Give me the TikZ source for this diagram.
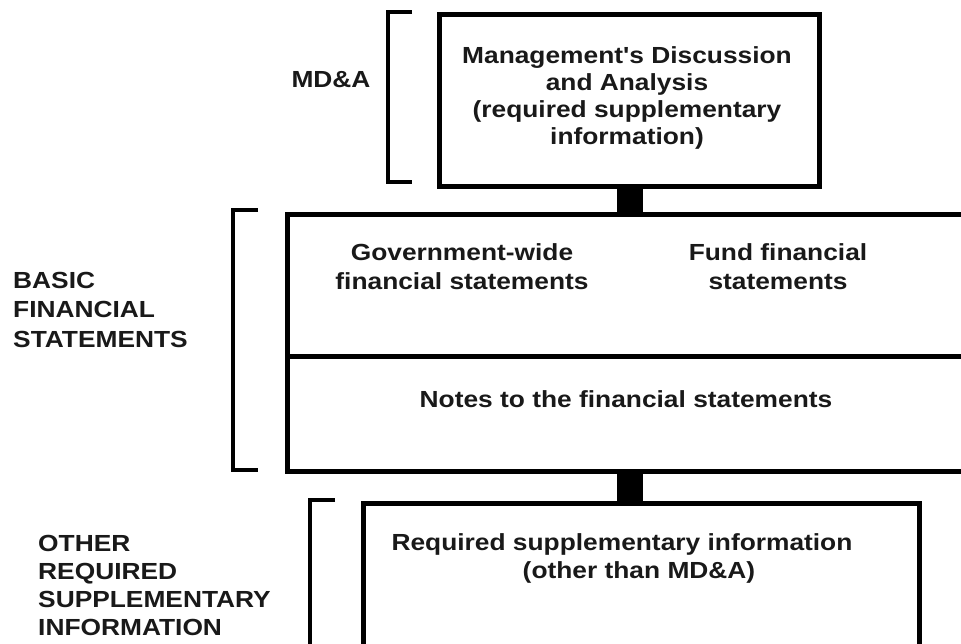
\documentclass[tikz,border=0pt]{standalone}
\usepackage{fontspec}
\setmainfont{Liberation Sans}[FakeStretch=1.13, Ligatures=TeXOff]
\begin{document}
\begin{tikzpicture}[x=1pt,y=-1pt,
  box/.style={draw, line width=5pt, inner sep=0pt, anchor=north west},
  lbl/.style={font=\bfseries\fontsize{23.3}{28.5}\selectfont, inner sep=0pt, anchor=base, text=black!90},
  lbll/.style={lbl, anchor=base west},
  brk/.style={line width=3.5pt, line join=miter},
  link/.style={line width=26pt}]
\useasboundingbox (0,0) rectangle (961,644);
% boxes
\node[box, minimum width=380pt, minimum height=172pt] (mda) at (437,12) {};
\node[box, minimum width=682pt, minimum height=257pt] (bfs) at (285,212) {};
\coordinate (divw) at (285,356);
\coordinate (dive) at (967,356);
\draw[line width=5pt] (divw) -- (dive);
\node[box, minimum width=556pt, minimum height=170pt] (rsi) at (361,501) {};
% connectors
\draw[link] (mda.south) -- (mda.south |- bfs.north);
\draw[link] (mda.south |- bfs.south) -- (mda.south |- rsi.north);
% brackets
\coordinate (b1a) at (412,12); \coordinate (b1b) at (388,12);
\coordinate (b1c) at (388,182); \coordinate (b1d) at (412,182);
\draw[brk] (b1a) -- (b1b) -- (b1c) -- (b1d);
\coordinate (b2a) at (258,210); \coordinate (b2b) at (233,210);
\coordinate (b2c) at (233,470); \coordinate (b2d) at (258,470);
\draw[brk] (b2a) -- (b2b) -- (b2c) -- (b2d);
\coordinate (b3a) at (335,500); \coordinate (b3b) at (310,500);
\coordinate (b3c) at (310,660);
\draw[brk] (b3a) -- (b3b) -- (b3c);
% labels
\node[lbl] (t1) at (331,88) {MD\&A};
\node[lbl] (m1) at (627,64) {Management's Discussion};
\node[lbl] (m2) at (627,91) {and Analysis};
\node[lbl] (m3) at (627,118) {(required supplementary};
\node[lbl] (m4) at (627,145) {information)};
\node[lbll] (t2a) at (13,289) {BASIC};
\node[lbll] (t2b) at (13,318) {FINANCIAL};
\node[lbll] (t2c) at (13,347) {STATEMENTS};
\node[lbl] (g1) at (462,261) {Government-wide};
\node[lbl] (g2) at (462,290) {financial statements};
\node[lbl] (f1) at (778,261) {Fund financial};
\node[lbl] (f2) at (778,290) {statements};
\node[lbl] (n1) at (626,407) {Notes to the financial statements};
\node[lbll] (t3a) at (38,551) {OTHER};
\node[lbll] (t3b) at (38,579) {REQUIRED};
\node[lbll] (t3c) at (38,607) {SUPPLEMENTARY};
\node[lbll] (t3d) at (38,635) {INFORMATION};
\node[lbl] (r1) at (622,550) {Required supplementary information};
\node[lbl] (r2) at (639,578) {(other than MD\&A)};
\end{tikzpicture}
\end{document}
